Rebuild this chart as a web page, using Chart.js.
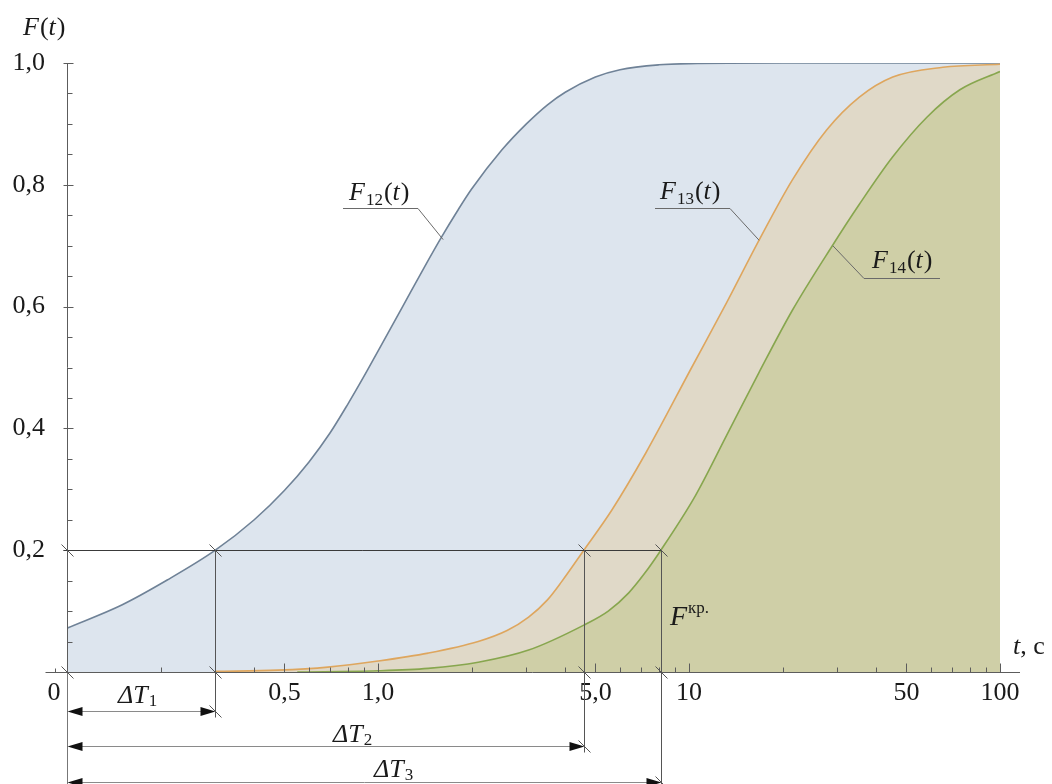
<!DOCTYPE html>
<html>
<head>
<meta charset="utf-8">
<script src="https://cdn.jsdelivr.net/npm/chart.js@4.4.1/dist/chart.umd.min.js"></script>
<style>html,body{margin:0;padding:0;background:#fff}canvas{display:block}</style>
</head>
<body>
<canvas id="c" width="1052" height="784"></canvas>
<script>
// ---- data: t in seconds, F(t) probability ----
const tF12 = [0.1, 0.15, 0.21, 0.3, 0.4, 0.5, 0.6, 0.7, 0.8, 0.9, 1.0, 1.2, 1.4, 1.6, 1.8, 2.0, 2.5, 3.0, 3.5, 4.0, 5.0, 6.0, 8.0, 10, 20, 100];
const F12  = [0.072, 0.11, 0.151, 0.2, 0.25, 0.298, 0.345, 0.392, 0.44, 0.485, 0.527, 0.6, 0.662, 0.714, 0.757, 0.793, 0.857, 0.9, 0.931, 0.952, 0.977, 0.989, 0.997, 0.999, 1.0, 1.0];

const tF13 = [0.3, 0.476, 0.69, 1.0, 1.45, 2.1, 2.6, 3.05, 3.5, 3.89, 4.59, 5.65, 7.27, 10.2, 13.2, 16.8, 21.5, 27.7, 35.3, 45.2, 65.5, 100];
const F13  = [0.001, 0.003, 0.008, 0.018, 0.031, 0.05, 0.068, 0.09, 0.118, 0.148, 0.2, 0.266, 0.36, 0.5, 0.606, 0.709, 0.808, 0.89, 0.944, 0.977, 0.993, 0.998];

const tF14 = [0.55, 1.0, 1.45, 2.1, 3.05, 4.59, 5.5, 6.4, 7.2, 8.12, 10.5, 13.2, 16.8, 21.5, 28.9, 35.3, 45.2, 58.2, 74.3, 100];
const F14  = [0.0, 0.002, 0.006, 0.016, 0.036, 0.077, 0.1, 0.13, 0.162, 0.2, 0.29, 0.388, 0.492, 0.594, 0.7, 0.768, 0.846, 0.911, 0.956, 0.986];

// axis ticks
const xTickValues = [0.1, 0.5, 1, 5, 10, 50, 100];
const xTickLabels = ['0', '0,5', '1,0', '5,0', '10', '50', '100'];
const xMinorTicks = [0.2, 0.3, 0.4, 0.6, 0.7, 0.8, 0.9, 2, 3, 4, 6, 7, 8, 9, 20, 30, 40, 60, 70, 80, 90];
const yTickValues = [0.2, 0.4, 0.6, 0.8, 1.0];
const yTickLabels = ['0,2', '0,4', '0,6', '0,8', '1,0'];
const yMinorTicks = [0, 0.05, 0.1, 0.15, 0.25, 0.3, 0.35, 0.45, 0.5, 0.55, 0.65, 0.7, 0.75, 0.85, 0.9, 0.95];

// critical level and the times where each curve reaches it (ΔT1, ΔT2, ΔT3)
const Fcrit = 0.2;
const critTimes = [0.3, 4.59, 8.12];
// points on each curve where the label leader lines end
const leaderTimes = [1.62, 16.8, 29];
const leaderF = [0.71, 0.709, 0.70];

const SERIF = '"Liberation Serif", "Times New Roman", serif';
const near = (a, b) => Math.abs(a - b) < 1e-9 * Math.max(1, Math.abs(b));

function pts(t, f) { return t.map((v, i) => ({ x: v, y: f[i] })); }

function rich(ctx, parts, x, y) {
  let cx = x;
  for (const p of parts) {
    ctx.font = (p.i ? 'italic ' : '') + p.s + 'px ' + SERIF;
    ctx.fillText(p.t, cx, y + (p.dy || 0));
    cx += ctx.measureText(p.t).width + (p.gap || 0);
  }
}
function fLabel(ctx, sub, x, y) {
  rich(ctx, [
    { t: 'F', i: true, s: 26, gap: 1 },
    { t: sub, s: 17, dy: 5, gap: 1 },
    { t: '(', s: 26 }, { t: 't', i: true, s: 26, gap: 1 }, { t: ')', s: 26 }
  ], x, y);
}

const overlay = {
  id: 'overlay',
  afterDatasetsDraw(chart) {
    const ctx = chart.ctx, xs = chart.scales.x, ys = chart.scales.y;
    const X = v => xs.getPixelForValue(v), Y = v => ys.getPixelForValue(v);
    const x0 = Math.round(X(0.1)) + 0.5, y0 = Math.round(Y(0)) + 0.5;
    const line = (a, b, c, d) => { ctx.beginPath(); ctx.moveTo(a, b); ctx.lineTo(c, d); ctx.stroke(); };
    const slash = (x, y) => line(x - 6, y - 6, x + 6, y + 6);
    ctx.save();
    ctx.lineWidth = 1;

    // axes
    ctx.strokeStyle = '#5c5c5c';
    line(x0 - 22, y0, X(100) + 20, y0);
    line(x0, Y(1), x0, y0);
    // x ticks (inside)
    xMinorTicks.forEach(v => { const px = Math.round(X(v)) + 0.5; line(px, y0, px, y0 - 5); });
    xTickValues.forEach(v => { const px = Math.round(X(v)) + 0.5; line(px, y0, px, y0 - 9); });
    line(x0 - 12, y0, x0 - 12, y0 - 4);
    // y ticks (inside)
    yMinorTicks.forEach(v => { const py = Math.round(Y(v)) + 0.5; line(x0, py, x0 + 5, py); });
    yTickValues.forEach(v => { const py = Math.round(Y(v)) + 0.5; line(x0 - 4, py, x0 + 6, py); });

    // critical level line
    const yc = Math.round(Y(Fcrit)) + 0.5;
    ctx.strokeStyle = '#3a3a3a';
    line(x0 - 4, yc, X(critTimes[2]), yc);

    // extension lines
    const dimY = [y0 + 39, y0 + 74, y0 + 110];
    const ext = [dimY[0] + 6, dimY[1] + 6, 784];
    ctx.strokeStyle = '#555';
    critTimes.forEach((t, i) => { const px = Math.round(X(t)) + 0.5; line(px, yc, px, ext[i]); });
    ctx.strokeStyle = '#777';
    line(x0, y0, x0, 784);

    // slashes at intersections
    ctx.strokeStyle = '#555';
    slash(x0, yc); slash(x0, y0);
    critTimes.forEach((t, i) => { const px = Math.round(X(t)) + 0.5; slash(px, yc); slash(px, y0); slash(px, dimY[i]); });

    // dimension lines with arrowheads
    const head = (x, y, dir) => {
      ctx.beginPath(); ctx.moveTo(x, y); ctx.lineTo(x - dir * 15, y - 4.5); ctx.lineTo(x - dir * 15, y + 4.5); ctx.closePath(); ctx.fill();
    };
    ctx.fillStyle = '#111';
    critTimes.forEach((t, i) => {
      const px = Math.round(X(t)) + 0.5;
      ctx.strokeStyle = '#8a8a8a';
      line(x0 + 10, dimY[i], px - 10, dimY[i]);
      head(x0, dimY[i], -1); head(px, dimY[i], 1);
    });

    // leader lines for curve labels
    ctx.strokeStyle = '#6a6a6a';
    const lead = [[343, 418, 208.5], [655, 730, 208.5], [940, 864, 278.5]];
    lead.forEach((l, i) => {
      ctx.beginPath(); ctx.moveTo(l[0], l[2]); ctx.lineTo(l[1], l[2]);
      ctx.lineTo(X(leaderTimes[i]), Y(leaderF[i])); ctx.stroke();
    });

    // texts
    ctx.fillStyle = '#1a1a1a';
    ctx.textBaseline = 'alphabetic';
    ctx.textAlign = 'left';
    rich(ctx, [{ t: 'F', i: true, s: 26, gap: 1 }, { t: '(', s: 26 }, { t: 't', i: true, s: 26, gap: 1 }, { t: ')', s: 26 }], 23, 35);
    fLabel(ctx, '12', 349, 200);
    fLabel(ctx, '13', 660, 199);
    fLabel(ctx, '14', 872, 268);
    rich(ctx, [{ t: 'F', i: true, s: 28, gap: 1 }, { t: 'кр.', s: 17, dy: -12 }], 670, 625);
    const dT = (n, x, y) => rich(ctx, [{ t: 'Δ', i: true, s: 26 }, { t: 'T', i: true, s: 26, gap: 1 }, { t: n, s: 17, dy: 3 }], x, y);
    dT('1', 118, 703); dT('2', 333, 742); dT('3', 374, 777);
    rich(ctx, [{ t: 't', i: true, s: 26 }, { t: ', c', s: 26 }], 1013, 654);
    ctx.restore();
  }
};

new Chart(document.getElementById('c'), {
  type: 'line',
  data: {
    datasets: [
      { label: 'F14(t)', data: pts(tF14, F14), borderColor: '#87a64e', backgroundColor: '#cfcfa7', fill: 'origin', borderWidth: 1.6, pointRadius: 0, cubicInterpolationMode: 'monotone' },
      { label: 'F13(t)', data: pts(tF13, F13), borderColor: '#dea65e', backgroundColor: '#e0d9c8', fill: 'origin', borderWidth: 1.6, pointRadius: 0, cubicInterpolationMode: 'monotone' },
      { label: 'F12(t)', data: pts(tF12, F12), borderColor: '#6f8297', backgroundColor: '#dde5ee', fill: 'origin', borderWidth: 1.6, pointRadius: 0, cubicInterpolationMode: 'monotone' }
    ]
  },
  options: {
    responsive: false,
    animation: false,
    layout: { padding: { top: 63, right: 52, left: 0, bottom: 0 } },
    plugins: { legend: { display: false }, tooltip: { enabled: false } },
    scales: {
      x: {
        type: 'logarithmic', min: 0.1, max: 100,
        afterBuildTicks: s => { s.ticks = xTickValues.map(v => ({ value: v })); },
        afterFit: s => { s.height = 112; },
        grid: { display: false, drawTicks: false },
        border: { display: false },
        ticks: {
          autoSkip: false, maxRotation: 0, minRotation: 0, padding: 6, color: '#1a1a1a',
          font: { family: SERIF, size: 26 },
          callback: v => {
            const i = xTickValues.findIndex(a => near(a, v));
            if (i < 0) return '';
            return i === 0 ? xTickLabels[i] + '\u2003' : xTickLabels[i];
          }
        }
      },
      y: {
        min: 0, max: 1,
        afterBuildTicks: s => { s.ticks = yTickValues.map(v => ({ value: v })); },
        afterFit: s => { s.width = 67; },
        grid: { display: false, drawTicks: false },
        border: { display: false },
        ticks: {
          autoSkip: false, padding: 22, color: '#1a1a1a',
          font: { family: SERIF, size: 26 },
          callback: v => { const i = yTickValues.findIndex(a => near(a, v)); return i < 0 ? '' : yTickLabels[i]; }
        }
      }
    }
  },
  plugins: [overlay]
});
</script>
</body>
</html>
